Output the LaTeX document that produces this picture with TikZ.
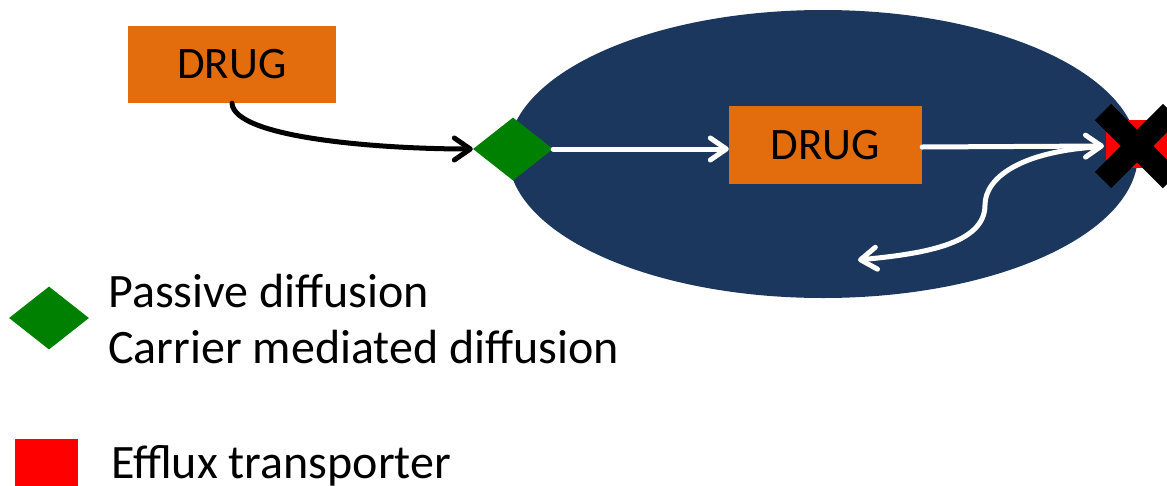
\documentclass[tikz,border=0pt]{standalone}
\usepackage{fontspec}
\setmainfont{Carlito}
\usetikzlibrary{arrows.meta,shapes.geometric}
\definecolor{cellblue}{RGB}{28,55,94}
\definecolor{drugorange}{RGB}{227,108,12}
\definecolor{carriergreen}{RGB}{0,128,0}
\definecolor{effluxred}{RGB}{255,0,0}
\tikzset{
  lbl/.style={font=\fontsize{45}{54}\selectfont, text=black},
  drugbox/.style={rectangle, fill=drugorange, inner sep=0pt, lbl},
  carrier/.style={diamond, fill=carriergreen, inner sep=0pt,
                  minimum width=80pt, minimum height=63pt},
  transporter/.style={rectangle, fill=effluxred, inner sep=0pt,
                      minimum width=63pt, minimum height=48pt},
  legendtext/.style={font=\fontsize{48}{58}\selectfont, text=black,
                     anchor=base west, inner sep=0pt},
  flow/.style={line width=5pt, line cap=round,
               -{Straight Barb[length=16pt, width=22pt, line cap=round, line join=round]}},
}
\begin{document}
\begin{tikzpicture}[x=1pt, y=-1pt]
\useasboundingbox (0,0) rectangle (1167,485);

% the cell
\node[ellipse, fill=cellblue, inner sep=0pt,
      minimum width=630pt, minimum height=288pt] (cell) at (823,154) {};

% drug outside and inside the cell
\node[drugbox, minimum width=208pt, minimum height=77pt] (drugout) at (232,64.5) {DRUG};
\node[drugbox, minimum width=193pt, minimum height=78pt] (drugin) at (825.5,145) {DRUG};

% uptake carrier on the membrane
\node[carrier] (uptake) at (513,149) {};

% blocked efflux transporter
\begin{scope}
  \clip (0,0) rectangle (1167,485);
  \node[transporter, anchor=west] (efflux) at (1106,144) {};
  \coordinate (xc) at (1137,146);
  \draw[line width=23pt] ([shift={(-34,-34)}]xc) -- ([shift={(34,34)}]xc);
  \draw[line width=23pt] ([shift={(-34,34)}]xc) -- ([shift={(34,-34)}]xc);
\end{scope}

% connectors
\draw[flow, black] (drugout.south) .. controls (234,138) and (380,149) .. (uptake.west);
\draw[flow, white] (uptake.east) -- (drugin.west |- uptake.east);
\coordinate (effin) at (1104,146);
\draw[flow, white] ([yshift=-2pt]drugin.east) -- (effin);
\coordinate (back) at (858,260);
\draw[flow, white] (1096,147) .. controls (1020,152) and (985,178) .. (985,205)
      .. controls (985,245) and (920,254) .. (back);

% legend
\node[carrier] (legcarrier) at (49,318) {};
\node[legendtext] (legpassive) at (108,307) {Passive diffusion};
\node[legendtext] (legcarriertext) at (108,363) {Carrier mediated diffusion};
\node[transporter, minimum height=47pt, anchor=north west] (legefflux) at (15,439) {};
\node[legendtext] (legeffluxtext) at (111,478) {Efflux transporter};
\end{tikzpicture}
\end{document}
